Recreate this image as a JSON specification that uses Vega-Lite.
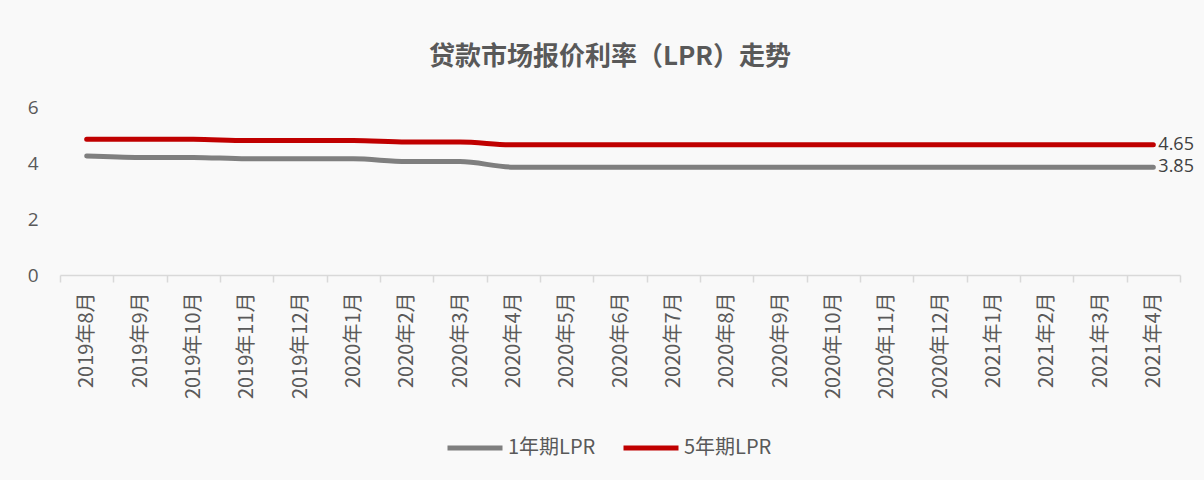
{
  "$schema": "https://vega.github.io/schema/vega-lite/v6.json",
  "autosize": {"type": "none"},
  "width": 1120,
  "height": 168,
  "padding": {"left": 60, "top": 107, "right": 24, "bottom": 205},
  "background": "#f9f9f9",
  "config": {
    "font": "Open Sans",
    "view": {"stroke": null}
  },
  "title": {
    "text": "贷款市场报价利率（LPR）走势",
    "font": "Noto Sans CJK SC",
    "fontSize": 26,
    "fontWeight": "bold",
    "color": "#595959",
    "anchor": "middle",
    "offset": 28,
    "dx": -10
  },
  "data": {
    "values": [
      {"month": "2019年8月", "series": "1年期LPR", "rate": 4.25},
      {"month": "2019年9月", "series": "1年期LPR", "rate": 4.20},
      {"month": "2019年10月", "series": "1年期LPR", "rate": 4.20},
      {"month": "2019年11月", "series": "1年期LPR", "rate": 4.15},
      {"month": "2019年12月", "series": "1年期LPR", "rate": 4.15},
      {"month": "2020年1月", "series": "1年期LPR", "rate": 4.15},
      {"month": "2020年2月", "series": "1年期LPR", "rate": 4.05},
      {"month": "2020年3月", "series": "1年期LPR", "rate": 4.05},
      {"month": "2020年4月", "series": "1年期LPR", "rate": 3.85},
      {"month": "2020年5月", "series": "1年期LPR", "rate": 3.85},
      {"month": "2020年6月", "series": "1年期LPR", "rate": 3.85},
      {"month": "2020年7月", "series": "1年期LPR", "rate": 3.85},
      {"month": "2020年8月", "series": "1年期LPR", "rate": 3.85},
      {"month": "2020年9月", "series": "1年期LPR", "rate": 3.85},
      {"month": "2020年10月", "series": "1年期LPR", "rate": 3.85},
      {"month": "2020年11月", "series": "1年期LPR", "rate": 3.85},
      {"month": "2020年12月", "series": "1年期LPR", "rate": 3.85},
      {"month": "2021年1月", "series": "1年期LPR", "rate": 3.85},
      {"month": "2021年2月", "series": "1年期LPR", "rate": 3.85},
      {"month": "2021年3月", "series": "1年期LPR", "rate": 3.85},
      {"month": "2021年4月", "series": "1年期LPR", "rate": 3.85, "label": "3.85"},
      {"month": "2019年8月", "series": "5年期LPR", "rate": 4.85},
      {"month": "2019年9月", "series": "5年期LPR", "rate": 4.85},
      {"month": "2019年10月", "series": "5年期LPR", "rate": 4.85},
      {"month": "2019年11月", "series": "5年期LPR", "rate": 4.80},
      {"month": "2019年12月", "series": "5年期LPR", "rate": 4.80},
      {"month": "2020年1月", "series": "5年期LPR", "rate": 4.80},
      {"month": "2020年2月", "series": "5年期LPR", "rate": 4.75},
      {"month": "2020年3月", "series": "5年期LPR", "rate": 4.75},
      {"month": "2020年4月", "series": "5年期LPR", "rate": 4.65},
      {"month": "2020年5月", "series": "5年期LPR", "rate": 4.65},
      {"month": "2020年6月", "series": "5年期LPR", "rate": 4.65},
      {"month": "2020年7月", "series": "5年期LPR", "rate": 4.65},
      {"month": "2020年8月", "series": "5年期LPR", "rate": 4.65},
      {"month": "2020年9月", "series": "5年期LPR", "rate": 4.65},
      {"month": "2020年10月", "series": "5年期LPR", "rate": 4.65},
      {"month": "2020年11月", "series": "5年期LPR", "rate": 4.65},
      {"month": "2020年12月", "series": "5年期LPR", "rate": 4.65},
      {"month": "2021年1月", "series": "5年期LPR", "rate": 4.65},
      {"month": "2021年2月", "series": "5年期LPR", "rate": 4.65},
      {"month": "2021年3月", "series": "5年期LPR", "rate": 4.65},
      {"month": "2021年4月", "series": "5年期LPR", "rate": 4.65, "label": "4.65"}
    ]
  },
  "encoding": {
    "x": {
      "field": "month",
      "type": "ordinal",
      "sort": null,
      "scale": {"type": "band", "paddingInner": 0, "paddingOuter": 0},
      "axis": {
        "title": null,
        "labelAngle": -90,
        "labelAlign": "right",
        "labelBaseline": "middle",
        "labelFont": "Noto Sans CJK SC",
        "labelFontSize": 20,
        "labelColor": "#595959",
        "labelPadding": 10,
        "domainColor": "#d9d9d9",
        "domainWidth": 1.5,
        "tickColor": "#d9d9d9",
        "tickWidth": 1.5,
        "tickSize": 7,
        "tickBand": "extent",
        "grid": false
      }
    },
    "y": {
      "field": "rate",
      "type": "quantitative",
      "scale": {"domain": [0, 6], "nice": false, "zero": true},
      "axis": {
        "title": null,
        "values": [0, 2, 4, 6],
        "grid": false,
        "domain": false,
        "ticks": false,
        "labelFont": "Open Sans",
        "labelFontSize": 19,
        "labelColor": "#595959",
        "labelPadding": 22
      }
    },
    "color": {
      "field": "series",
      "type": "nominal",
      "scale": {"domain": ["1年期LPR", "5年期LPR"], "range": ["#7f7f7f", "#c00000"]},
      "legend": {
        "title": null,
        "orient": "none",
        "direction": "horizontal",
        "legendX": 385,
        "legendY": 311,
        "symbolType": "stroke",
        "symbolSize": 3025,
        "symbolStrokeWidth": 5,
        "labelFont": "Noto Sans CJK SC",
        "labelFontSize": 20,
        "labelColor": "#595959",
        "labelOffset": 3,
        "columnPadding": 17
      }
    }
  },
  "layer": [
    {
      "mark": {"type": "line", "strokeWidth": 5, "strokeCap": "round", "interpolate": "monotone"}
    },
    {
      "transform": [{"filter": "isValid(datum.label)"}],
      "mark": {"type": "text", "align": "left", "baseline": "middle", "dx": 5, "fontSize": 18, "font": "Open Sans", "color": "#404040"},
      "encoding": {
        "text": {"field": "label"},
        "color": {"value": "#404040"}
      }
    }
  ]
}
